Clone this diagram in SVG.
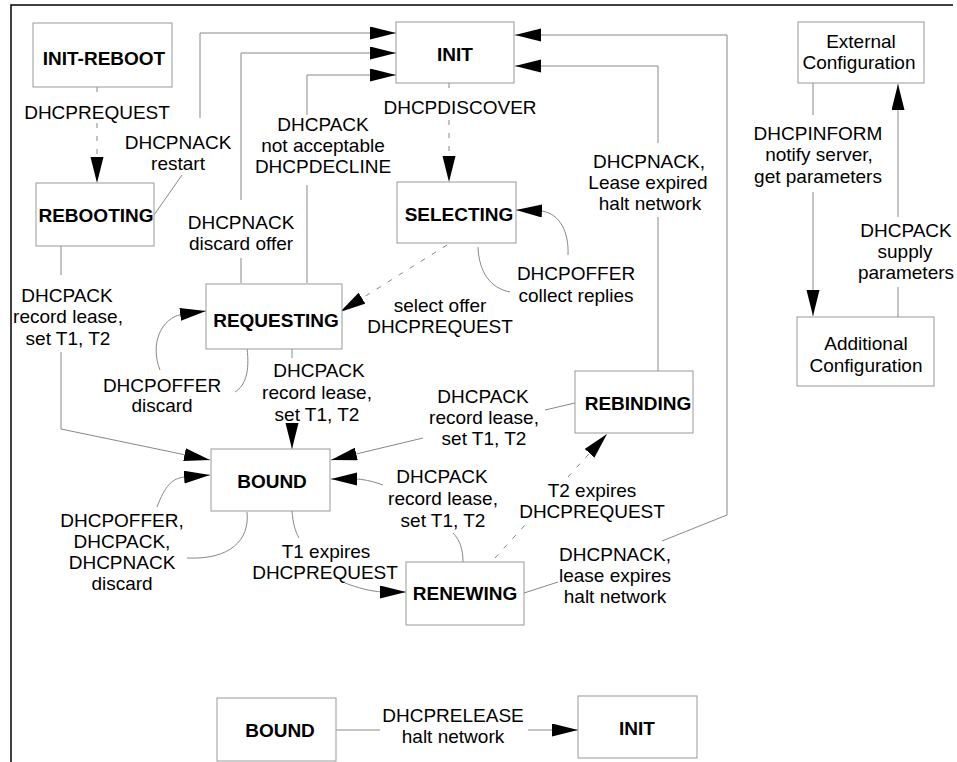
<svg xmlns="http://www.w3.org/2000/svg" width="957" height="762" viewBox="0 0 957 762">
<defs>
<marker id="ah" markerUnits="userSpaceOnUse" markerWidth="28" markerHeight="14" refX="26" refY="6.5" orient="auto">
<path d="M0,0 L26,6.5 L0,13 Z" fill="#000"/>
</marker>
<style>
.box{fill:#fff;stroke:#999;stroke-width:1}
.st{font-family:"Liberation Sans",Arial,sans-serif;font-size:19px;font-weight:bold;fill:#000;text-anchor:middle}
.nt{font-family:"Liberation Sans",Arial,sans-serif;font-size:19px;fill:#000;text-anchor:middle}
.lb{font-family:"Liberation Sans",Arial,sans-serif;font-size:19px;fill:#000;text-anchor:middle}
.c{fill:none;stroke:#888;stroke-width:1}
.a{marker-end:url(#ah)}
.d{stroke-dasharray:5,8}
</style>
</defs>
<rect width="957" height="762" fill="#fff"/>
<path d="M11,762 L11,5 L953,5" fill="none" stroke="#000" stroke-width="1.5"/>

<g id="connectors">
<path class="c d a" d="M97,87 L97,100 M97,123 L97,183"/>
<path class="c a" d="M154,215 L182,175 M200,118 L200,33 L396,33"/>
<path class="c a" d="M241,283 L241,258 M241,200 L241,53 L396,53"/>
<path class="c a" d="M307,283 L307,185 M307,115 L307,75 L396,75"/>
<path class="c d a" d="M449,83 L449,95 M449,120 L449,182"/>
<path class="c" d="M478,247 C479,272 490,288 510,292"/>
<path class="c a" d="M568,255 C569,232 560,214 542,211 L516,210"/>
<path class="c d a" d="M447,245 L340,312"/>
<path class="c" d="M247,348 C250,372 245,386 235,392"/>
<path class="c a" d="M160,370 C150,345 160,318 183,314 L206,311"/>
<path class="c a" d="M61,246 L61,275 M61,352 L61,429 L210,460"/>
<path class="c" d="M187,558 C230,560 250,540 247,512"/>
<path class="c a" d="M157,507 C165,486 172,478 185,477 L210,475"/>
<path class="c a" d="M292,349 L292,358 M292,425 L292,449"/>
<path class="c a" d="M575,403 L545,410 M423,438 L331,460"/>
<path class="c a" d="M383,485 C372,481 362,479 355,479 L331,479"/>
<path class="c" d="M463,562 C463,548 459,539 453,533"/>
<path class="c" d="M292,511 C293,523 295,531 299,538"/>
<path class="c a" d="M345,583 C358,588 370,591 382,592 L406,592"/>
<path class="c d a" d="M495,558 L525,525 M568,477 L607,434"/>
<path class="c a" d="M524,593 L558,582 M662,541 L727,515 L727,35 L515,35"/>
<path class="c a" d="M658,371 L658,217 M658,143 L658,66 L515,66"/>
<path class="c a" d="M813,83 L813,115 M813,192 L813,316"/>
<path class="c a" d="M898,317 L898,287 M898,217 L898,84"/>
<path class="c a" d="M336,730 L380,730 M528,730 L578,730"/>
</g>

<g id="labels">
<text class="lb" x="97" y="119">DHCPREQUEST</text>
<text class="lb" x="178" y="149">DHCPNACK</text>
<text class="lb" x="178" y="170">restart</text>
<text class="lb" x="241" y="229">DHCPNACK</text>
<text class="lb" x="241" y="250">discard offer</text>
<text class="lb" x="323" y="131">DHCPACK</text>
<text class="lb" x="323" y="152">not acceptable</text>
<text class="lb" x="323" y="173">DHCPDECLINE</text>
<text class="lb" x="460" y="114">DHCPDISCOVER</text>
<text class="lb" x="576" y="280">DHCPOFFER</text>
<text class="lb" x="576" y="302">collect replies</text>
<text class="lb" x="440" y="312">select offer</text>
<text class="lb" x="440" y="333">DHCPREQUEST</text>
<text class="lb" x="162" y="392">DHCPOFFER</text>
<text class="lb" x="162" y="412">discard</text>
<text class="lb" x="67" y="302">DHCPACK</text>
<text class="lb" x="68" y="323">record lease,</text>
<text class="lb" x="68" y="345">set T1, T2</text>
<text class="lb" x="122" y="527">DHCPOFFER,</text>
<text class="lb" x="122" y="548">DHCPACK,</text>
<text class="lb" x="122" y="569">DHCPNACK</text>
<text class="lb" x="122" y="590">discard</text>
<text class="lb" x="319" y="377">DHCPACK</text>
<text class="lb" x="317" y="399">record lease,</text>
<text class="lb" x="317" y="421">set T1, T2</text>
<text class="lb" x="483" y="403">DHCPACK</text>
<text class="lb" x="484" y="424">record lease,</text>
<text class="lb" x="484" y="445">set T1, T2</text>
<text class="lb" x="442" y="483">DHCPACK</text>
<text class="lb" x="443" y="505">record lease,</text>
<text class="lb" x="443" y="527">set T1, T2</text>
<text class="lb" x="326" y="558">T1 expires</text>
<text class="lb" x="325" y="579">DHCPREQUEST</text>
<text class="lb" x="592" y="497">T2 expires</text>
<text class="lb" x="592" y="518">DHCPREQUEST</text>
<text class="lb" x="615" y="561">DHCPNACK,</text>
<text class="lb" x="615" y="582">lease expires</text>
<text class="lb" x="615" y="603">halt network</text>
<text class="lb" x="649" y="168">DHCPNACK,</text>
<text class="lb" x="648" y="189">Lease expired</text>
<text class="lb" x="650" y="210">halt network</text>
<text class="lb" x="818" y="140">DHCPINFORM</text>
<text class="lb" x="819" y="161">notify server,</text>
<text class="lb" x="818" y="183">get parameters</text>
<text class="lb" x="906" y="237">DHCPACK</text>
<text class="lb" x="905" y="258">supply</text>
<text class="lb" x="906" y="279">parameters</text>
<text class="lb" x="453" y="722">DHCPRELEASE</text>
<text class="lb" x="453" y="743">halt network</text>
</g>

<g id="init-reboot"><rect class="box" x="33" y="23" width="139" height="64"/><text class="st" x="104" y="65">INIT-REBOOT</text></g>
<g id="rebooting"><rect class="box" x="36" y="183" width="118" height="63"/><text class="st" x="96" y="222">REBOOTING</text></g>
<g id="init"><rect class="box" x="396" y="22" width="118" height="61"/><text class="st" x="455" y="61">INIT</text></g>
<g id="selecting"><rect class="box" x="397" y="182" width="119" height="61"/><text class="st" x="459" y="221">SELECTING</text></g>
<g id="requesting"><rect class="box" x="206" y="284" width="136" height="65"/><text class="st" x="276" y="327">REQUESTING</text></g>
<g id="bound"><rect class="box" x="211" y="449" width="119" height="62"/><text class="st" x="272" y="488">BOUND</text></g>
<g id="renewing"><rect class="box" x="406" y="562" width="118" height="63"/><text class="st" x="465" y="600">RENEWING</text></g>
<g id="rebinding"><rect class="box" x="575" y="371" width="118" height="62"/><text class="st" x="638" y="410">REBINDING</text></g>
<g id="external-config"><rect class="box" x="798" y="22" width="126" height="61"/><text class="nt" x="861" y="48">External</text><text class="nt" x="859" y="69">Configuration</text></g>
<g id="additional-config"><rect class="box" x="797" y="317" width="137" height="69"/><text class="nt" x="866" y="350">Additional</text><text class="nt" x="866" y="372">Configuration</text></g>
<g id="bound-2"><rect class="box" x="217" y="698" width="119" height="63"/><text class="st" x="280" y="737">BOUND</text></g>
<g id="init-2"><rect class="box" x="578" y="696" width="119" height="62"/><text class="st" x="637" y="735">INIT</text></g>
</svg>
